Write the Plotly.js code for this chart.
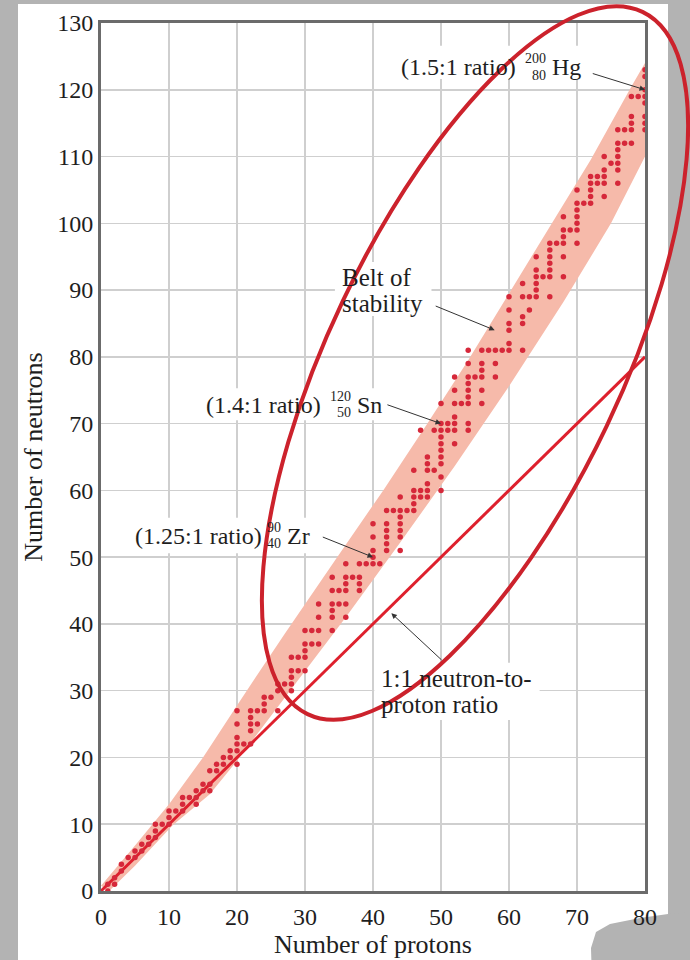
<!DOCTYPE html>
<html>
<head>
<meta charset="utf-8">
<script src="https://cdn.plot.ly/plotly-3.0.1.min.js"></script>
<style>html,body{margin:0;padding:0;background:#b3b3b3;}#chart{width:690px;height:960px;}</style>
</head>
<body>
<div id="chart"></div>
<script>
// ---- data ----
const protonNumbers = [1,2,3,4,5,6,7,8,9,10,11,12,13,14,15,16,17,18,19,20,
  21,22,23,24,25,26,27,28,29,30,31,32,34,35,36,37,38,39,40,41,
  42,43,44,45,46,47,48,49,50,51,52,53,54,55,56,57,58,59,60,
  62,63,64,65,66,67,68,69,70,71,72,73,74,75,76,77,78,79,80];
const neutronLists = [[0,1],[1,2],[3,4],[5],[5,6],[6,7],[7,8],[8,9,10],[10],[10,11,12],
  [12],[12,13,14],[14],[13,14,15],[15,16],[15,16,18],[18,19],[19,20],[20,21],[19,21,22,23,25,27],
  [22],[22,24,25,26,27],[25,27],[27,28,29],[29],[27,30,31],[31],[30,31,32,33,35],[33,35],[33,35,36,37,39],
  [37,39],[37,39,41,43],[39,41,42,43,45,47],[43,45],[41,43,45,46,47,49],[47],[45,46,47,49],[49],[49,50,51,53,55],[49],
  [51,52,53,54,55,57],[57],[51,53,54,55,56,57,59],[57],[57,58,59,60,63],[59,60,69],[59,60,61,63,64,65],[63,69],
  [60,62,64,65,66,67,68,69,70,73],[69,70],[67,69,70,71,73,75,77],[73],[69,70,73,74,75,76,77,79,81],[77],
  [73,75,77,78,79,81],[81],[77,79,81],[81],[81,82,84,85,87,89],
  [81,85,86,89,91],[87,89],[89,90,91,92,93,95],[92],[89,92,93,94,95,96,97],[97],[92,95,97,98,99,101],[99],
  [97,99,100,101,102,103,105],[103],[103,104,105,106,107],[106,107],[104,106,107,108,110],[109],
  [106,108,109,110,111,112,114],[112,114],[112,114,115,116,119],[119],[114,115,116,118,119,120,122,123]];

const beltUpperZ = [0, 5, 10, 15, 20, 27, 34.4, 41.5, 48, 54, 60, 66, 72, 78, 80];
const beltUpperN = [0.8, 6.8, 13, 20, 27.8, 38.5, 49.5, 60, 70, 79.5, 89.5, 99.5, 109.5, 120.5, 124];
const beltLowerZ = [80, 75, 68, 60, 52, 44, 36, 28, 20, 16, 10.5, 5, 1.2];
const beltLowerN = [110, 100, 88.2, 75.6, 63.6, 52.2, 41, 30.2, 19.5, 14.5, 9.8, 3.8, 0];

const ratioLineZ = [0, 80];
const ratioLineN = [0, 80];

const xTicks = [0,10,20,30,40,50,60,70,80];
const yTicks = [0,10,20,30,40,50,60,70,80,90,100,110,120,130];

// ---- build traces ----
const dotZ = [], dotN = [];
protonNumbers.forEach((z, i) => neutronLists[i].forEach(n => { dotZ.push(z); dotN.push(n); }));

const beltX = beltUpperZ.concat(beltLowerZ);
const beltY = beltUpperN.concat(beltLowerN);

const FONT = 'Liberation Serif, Times New Roman, serif';
const traces = [
  {x: beltX, y: beltY, type: 'scatter', mode: 'lines', fill: 'toself',
   fillcolor: 'rgb(246,186,170)', line: {width: 0}, hoverinfo: 'skip', cliponaxis: true},
  {x: ratioLineZ, y: ratioLineN, type: 'scatter', mode: 'lines',
   line: {color: 'rgb(222,32,45)', width: 3}, cliponaxis: true},
  {x: dotZ, y: dotN, type: 'scatter', mode: 'markers',
   marker: {color: 'rgb(214,40,58)', size: 5.5}, cliponaxis: false}
];

// ---- layout geometry ----
const L = 101, R = 45, T = 23, B = 69, W = 690, H = 960;
const PW = W - L - R, PH = H - T - B;
function pp(x, y) { return [(x - L) / PW, (H - B - y) / PH]; }

// ellipse (decoration) in pixel space -> paper
function ellipsePath(cx, cy, a, b, deg) {
  const th = deg * Math.PI / 180, k = 0.5523;
  const u = [Math.cos(th), -Math.sin(th)], v = [Math.sin(th), Math.cos(th)];
  const P = t => [cx + a*Math.cos(t)*u[0] + b*Math.sin(t)*v[0], cy + a*Math.cos(t)*u[1] + b*Math.sin(t)*v[1]];
  const D = t => [-a*Math.sin(t)*u[0] + b*Math.cos(t)*v[0], -a*Math.sin(t)*u[1] + b*Math.cos(t)*v[1]];
  const f = p => { const q = pp(p[0], p[1]); return q[0].toFixed(5) + ',' + q[1].toFixed(5); };
  let s = 'M ' + f(P(0));
  for (let i = 0; i < 4; i++) {
    const t0 = i * Math.PI / 2, t1 = t0 + Math.PI / 2;
    const p0 = P(t0), p1 = P(t1), d0 = D(t0), d1 = D(t1);
    s += ' C ' + f([p0[0] + k*d0[0], p0[1] + k*d0[1]]) + ' ' + f([p1[0] - k*d1[0], p1[1] - k*d1[1]]) + ' ' + f(p1);
  }
  return s + ' Z';
}
function pathPx(pts) {
  return 'M ' + pts.map(p => { const q = pp(p[0], p[1]); return q[0].toFixed(5) + ',' + q[1].toFixed(5); }).join(' L ') + ' Z';
}

const pageA = pp(18, 960 + 20), pageB = pp(668, 4);
const shapes = [
  {type: 'rect', xref: 'paper', yref: 'paper', x0: pageA[0], y0: pageA[1], x1: pageB[0], y1: pageB[1],
   fillcolor: 'white', line: {width: 0}, layer: 'below'},
  {type: 'path', xref: 'paper', yref: 'paper', layer: 'below', fillcolor: '#b3b3b3', line: {width: 0},
   path: pathPx([[592,980],[591,948],[596,932],[610,924],[640,918],[668,914],[700,912],[700,980]])},
  // white boxes behind labels
  {type: 'rect', xref: 'x', yref: 'y', x0: 43.6, x1: 71.9, y0: 121.6, y1: 126.6, fillcolor: 'white', line: {width: 0}, layer: 'between'},
  {type: 'rect', xref: 'x', yref: 'y', x0: 34.4, x1: 48.6, y0: 86.1, y1: 94.2, fillcolor: 'white', line: {width: 0}, layer: 'between'},
  {type: 'rect', xref: 'x', yref: 'y', x0: 14.5, x1: 41.9, y0: 70.5, y1: 75.3, fillcolor: 'white', line: {width: 0}, layer: 'between'},
  {type: 'rect', xref: 'x', yref: 'y', x0: 3.9, x1: 31.8, y0: 50.6, y1: 55.9, fillcolor: 'white', line: {width: 0}, layer: 'between'},
  {type: 'rect', xref: 'x', yref: 'y', x0: 40.2, x1: 64.5, y0: 25.6, y1: 34.2, fillcolor: 'white', line: {width: 0}, layer: 'between'},
  {type: 'path', xref: 'paper', yref: 'paper', layer: 'above', line: {color: 'rgb(204,34,44)', width: 4},
   path: ellipsePath(475, 363, 389, 146, 64.5)}
];

function lab(text, x, y, xanchor, size) {
  return {text: text, x: x, y: y, xref: 'x', yref: 'y', xanchor: xanchor, yanchor: 'middle',
          showarrow: false, font: {family: FONT, size: size, color: '#1e1e1e'}};
}
function arrow(x, y, ax, ay) {
  return {text: '', x: x, y: y, ax: ax, ay: ay, xref: 'x', yref: 'y', axref: 'x', ayref: 'y',
          showarrow: true, arrowhead: 2, arrowsize: 1.1, arrowwidth: 1, arrowcolor: '#333', standoff: 0, startstandoff: 0};
}

const annotations = [
  lab('(1.5:1 ratio)', 61.3, 123.4, 'right', 24), lab('200', 65.8, 124.7, 'right', 14),
  lab('80', 65.8, 122.2, 'right', 14), lab('Hg', 66.0, 123.4, 'left', 24),
  arrow(80, 120, 72.1, 122.5),
  lab('Belt of', 35.2, 91.9, 'left', 25), lab('stability', 35.2, 88.0, 'left', 25),
  arrow(57.9, 84.0, 49.0, 87.7),
  lab('(1.4:1 ratio)', 32.7, 72.8, 'right', 24), lab('120', 37.0, 74.1, 'right', 14),
  lab('50', 37.0, 71.6, 'right', 14), lab('Sn', 37.4, 72.8, 'left', 24),
  arrow(50, 70, 41.9, 72.9),
  lab('(1.25:1 ratio)', 23.9, 53.1, 'right', 24), lab('90', 26.8, 54.5, 'right', 14),
  lab('40', 26.8, 52.0, 'right', 14), lab('Zr', 27.1, 53.1, 'left', 24),
  arrow(40, 50, 32.4, 53.1),
  lab('1:1 neutron-to-', 40.95, 31.9, 'left', 25), lab('proton ratio', 40.95, 27.9, 'left', 25),
  arrow(42.7, 41.6, 50.3, 34.4)
];

const axisCommon = {showline: true, mirror: true, linecolor: '#6b6b6b', linewidth: 3,
  showgrid: true, gridcolor: '#cfcfcf', gridwidth: 1.5, zeroline: false, ticks: '',
  tickfont: {family: FONT, size: 24, color: '#1e1e1e'}, tickmode: 'array'};

const layout = {
  width: W, height: H, margin: {l: L, r: R, t: T, b: B, pad: 0},
  paper_bgcolor: '#b3b3b3', plot_bgcolor: 'white', showlegend: false,
  xaxis: Object.assign({}, axisCommon, {range: [0, 80], tickvals: xTicks, ticktext: xTicks.map(String),
    ticklabelstandoff: 2,
    title: {text: 'Number of protons', font: {family: FONT, size: 26, color: '#1e1e1e'}, standoff: 4}}),
  yaxis: Object.assign({}, axisCommon, {range: [0, 130], tickvals: yTicks, ticktext: yTicks.map(String),
    ticklabelstandoff: 0,
    title: {text: 'Number of neutrons', font: {family: FONT, size: 26, color: '#1e1e1e'}, standoff: 8}}),
  shapes: shapes, annotations: annotations
};

Plotly.newPlot('chart', traces, layout, {displayModeBar: false, staticPlot: true});
</script>
</body>
</html>
